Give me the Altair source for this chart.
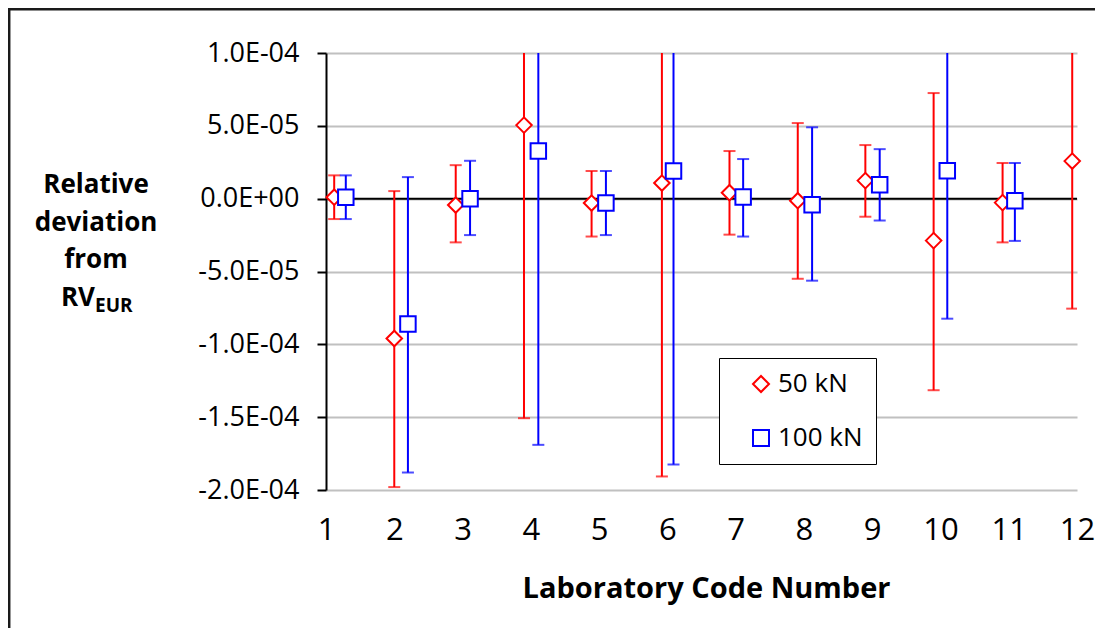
import altair as alt
import pandas as pd

# ---------------- data ----------------
labs = list(range(1, 13))
series_names = ["50 kN", "100 kN"]
series_colors = ["#FF0000", "#0000FF"]
series_shapes = ["diamond", "square"]

# 50 kN (12 laboratories)
x_50 = [1.12, 2.0, 2.9, 3.9, 4.89, 5.92, 6.91, 7.91, 8.9, 9.9, 10.91, 11.93]
val_50 = [1.0e-6, -9.6e-5, -4.4e-6, 5.05e-5, -3.0e-6, 1.07e-5, 4.1e-6, -1.4e-6, 1.24e-5, -2.88e-5, -2.7e-6, 2.58e-5]
lo_50 = [-1.4e-5, -1.98e-4, -3.0e-5, -1.507e-4, -2.6e-5, -1.907e-4, -2.47e-5, -5.5e-5, -1.24e-5, -1.315e-4, -3.0e-5, -7.55e-5]
hi_50 = [1.6e-5, 5.2e-6, 2.3e-5, 2.5e-4, 1.9e-5, 2.1e-4, 3.27e-5, 5.19e-5, 3.68e-5, 7.25e-5, 2.45e-5, 1.27e-4]

# 100 kN (11 laboratories)
x_100 = [1.29, 2.2, 3.11, 4.11, 5.1, 6.09, 7.11, 8.12, 9.11, 10.1, 11.09]
val_100 = [1.0e-6, -8.6e-5, 0.0, 3.27e-5, -3.0e-6, 1.9e-5, 1.1e-6, -4.1e-6, 9.6e-6, 1.92e-5, -1.4e-6]
lo_100 = [-1.4e-5, -1.88e-4, -2.5e-5, -1.69e-4, -2.5e-5, -1.825e-4, -2.6e-5, -5.63e-5, -1.5e-5, -8.24e-5, -2.9e-5]
hi_100 = [1.6e-5, 1.48e-5, 2.6e-5, 2.33e-4, 1.9e-5, 2.2e-4, 2.72e-5, 4.9e-5, 3.4e-5, 1.21e-4, 2.45e-5]

y_tick_values = [-2.0e-4, -1.5e-4, -1.0e-4, -5.0e-5, 0.0, 5.0e-5, 1.0e-4]
y_tick_labels = ["-2.0E-04", "-1.5E-04", "-1.0E-04", "-5.0E-05", "0.0E+00", "5.0E-05", "1.0E-04"]

x_title = "Laboratory Code Number"
y_title_lines = ["Relative", "deviation", "from"]
y_title_main = "RV"
y_title_sub = "EUR"

# ---------------- table ----------------
df = pd.concat([
    pd.DataFrame({"x": x_50, "val": val_50, "lo": lo_50, "hi": hi_50, "series": series_names[0]}),
    pd.DataFrame({"x": x_100, "val": val_100, "lo": lo_100, "hi": hi_100, "series": series_names[1]}),
], ignore_index=True)

FONT = "Open Sans"
W, H = 751, 437

step = y_tick_values[1] - y_tick_values[0]
label_expr = "[" + ",".join("'%s'" % s for s in y_tick_labels) + "]" + \
    "[round((datum.value - (%r)) / %r)]" % (y_tick_values[0], step)

x_enc = alt.X(
    "x:Q",
    scale=alt.Scale(domain=[labs[0], labs[-1]], nice=False, zero=False),
    axis=alt.Axis(
        values=labs, format="d", grid=False, domain=False, ticks=False, tickSize=0,
        labelFontSize=31, labelPadding=25.5, labelColor="black", labelFont=FONT,
        labelFlush=False, labelOverlap=False,
        title=x_title, titleFontSize=29, titleFontWeight="bold", titleFont=FONT,
        titleColor="black", titleY=84, titleX=380, titleBaseline="top",
    ),
)
y_scale = alt.Scale(domain=[y_tick_values[0], y_tick_values[-1]], nice=False, zero=False)
y_axis = alt.Axis(
    values=y_tick_values, labelExpr=label_expr, title=None,
    grid=True, gridColor="#c0c0c0", gridWidth=2,
    domainColor="black", domainWidth=2, tickColor="black", tickWidth=2, tickSize=9,
    labelFontSize=27, labelPadding=18, labelFont=FONT, labelColor="black",
    labelFlush=False, labelOverlap=False,
)

base = alt.Chart(df)

zero_line = alt.Chart(pd.DataFrame({"y": [0.0]})).mark_rule(color="black", strokeWidth=2).encode(
    y=alt.Y("y:Q", scale=y_scale, axis=y_axis)
)

# error bars (one colour per series, no legend)
error_layers = []
for name, col in zip(series_names, series_colors):
    sub = base.transform_filter(alt.datum.series == name)
    error_layers.append(sub.mark_rule(strokeWidth=2, clip=True, color=col).encode(
        x=x_enc, y=alt.Y("lo:Q", scale=y_scale, axis=y_axis), y2="hi:Q"))
    error_layers.append(sub.mark_tick(orient="horizontal", size=12, thickness=2, clip=True, color=col).encode(
        x=x_enc, y=alt.Y("lo:Q", scale=y_scale)))
    error_layers.append(sub.mark_tick(orient="horizontal", size=12, thickness=2, clip=True, color=col).encode(
        x=x_enc, y=alt.Y("hi:Q", scale=y_scale)))

legend = alt.Legend(
    title=None, orient="none", legendX=393, legendY=305,
    strokeColor="black", fillColor="white", padding=13,
    symbolOffset=16, symbolSize=256, symbolStrokeWidth=2,
    labelFontSize=26, labelFont=FONT, labelColor="black", labelOffset=4,
    rowPadding=28,
)
points = base.mark_point(filled=False, fill="white", fillOpacity=1, opacity=1, strokeWidth=2, size=240).encode(
    x=x_enc,
    y=alt.Y("val:Q", scale=y_scale),
    color=alt.Color("series:N", scale=alt.Scale(domain=series_names, range=series_colors), legend=legend),
    shape=alt.Shape("series:N", scale=alt.Scale(domain=series_names, range=series_shapes), legend=legend),
)

# y-axis title (horizontal, multi-line, with subscript)
ytitle = alt.Chart(pd.DataFrame({"t": ["\n".join(y_title_lines)]})).mark_text(
    font=FONT, fontSize=26, fontWeight="bold", color="black", align="center",
    baseline="alphabetic", lineBreak="\n", lineHeight=37.7,
).encode(text="t:N", x=alt.value(-230), y=alt.value(140))
ytitle_main = alt.Chart(pd.DataFrame({"t": [y_title_main]})).mark_text(
    font=FONT, fontSize=26, fontWeight="bold", color="black", align="right", baseline="alphabetic",
).encode(text="t:N", x=alt.value(-231), y=alt.value(253))
ytitle_sub = alt.Chart(pd.DataFrame({"t": [y_title_sub]})).mark_text(
    font=FONT, fontSize=19, fontWeight="bold", color="black", align="left", baseline="alphabetic",
).encode(text="t:N", x=alt.value(-231), y=alt.value(259))

# outer chart frame (top and left edges visible in the reference)
frame_left = alt.Chart(pd.DataFrame({"a": [0]})).mark_rule(color="#1a1a1a", strokeWidth=2.5).encode(
    x=alt.value(-316.8), y=alt.value(-44), y2=alt.value(H + 141)
)
frame_top = alt.Chart(pd.DataFrame({"a": [0]})).mark_rule(color="#1a1a1a", strokeWidth=2.5).encode(
    x=alt.value(-318), x2=alt.value(W + 18), y=alt.value(-43.8)
)

chart = alt.layer(
    zero_line, *error_layers, points, ytitle, ytitle_main, ytitle_sub, frame_left, frame_top
).properties(
    width=W, height=H,
    padding={"left": 318, "top": 45, "right": 18, "bottom": 138},
    autosize=alt.AutoSizeParams(type="none"),
).configure(font=FONT).configure_view(stroke=None)

chart.save("out.html", embed_options={"renderer": "svg", "actions": False})
